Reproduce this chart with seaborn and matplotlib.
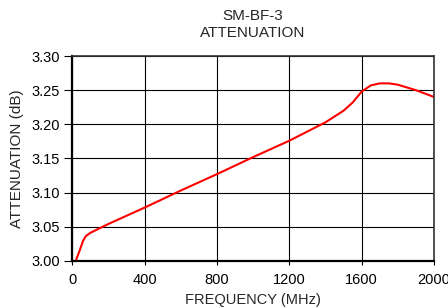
import pandas as pd
import matplotlib
matplotlib.use("Agg")
import matplotlib.pyplot as plt
import seaborn as sns

sns.set_style("white")
plt.rcParams['font.family'] = ['Liberation Sans', 'DejaVu Sans']

freq = [20, 40, 60, 75, 100, 200, 400, 600, 800, 1000, 1200, 1400, 1500, 1550,
        1600, 1650, 1700, 1750, 1800, 1900, 2000]
atten = [3.000, 3.014, 3.029, 3.036, 3.041, 3.054, 3.078, 3.103, 3.127, 3.152,
         3.176, 3.203, 3.220, 3.232, 3.248, 3.257, 3.260, 3.260, 3.258, 3.250, 3.240]
xticks = [0, 400, 800, 1200, 1600, 2000]
yticks = [3.00, 3.05, 3.10, 3.15, 3.20, 3.25, 3.30]

df = pd.DataFrame({'freq': freq, 'atten': atten})

fig = plt.figure(figsize=(4.48, 3.08), dpi=100)
ax = fig.add_axes([0.161, 0.153, 0.808, 0.665])
sns.lineplot(data=df, x='freq', y='atten', color='#ff0000', linewidth=1.5, ax=ax)

ax.set_xlim(0, 2000)
ax.set_ylim(3.00, 3.30)
ax.set_xticks(xticks)
ax.set_yticks(yticks)
ax.set_yticklabels([f'{v:.2f}' for v in yticks])
ax.grid(True, color='black', linewidth=0.8)
ax.tick_params(axis='both', labelsize=10.5, colors='black')
ax.tick_params(axis='y', left=True, length=6, width=0.8, pad=3)
ax.tick_params(axis='x', bottom=True, length=3, width=0.8, pad=6)
for side in ['left', 'bottom']:
    ax.spines[side].set_color('black')
    ax.spines[side].set_linewidth(1.6)
for side in ['top', 'right']:
    ax.spines[side].set_color('#333333')
    ax.spines[side].set_linewidth(1.2)

ax.set_xlabel('FREQUENCY (MHz)', fontsize=10.5, labelpad=4)
ax.set_ylabel('ATTENUATION (dB)', fontsize=11, labelpad=5)
ax.set_title('SM-BF-3\nATTENUATION', fontsize=11, pad=14, linespacing=1.2)

fig.savefig('out.png', dpi=100)
